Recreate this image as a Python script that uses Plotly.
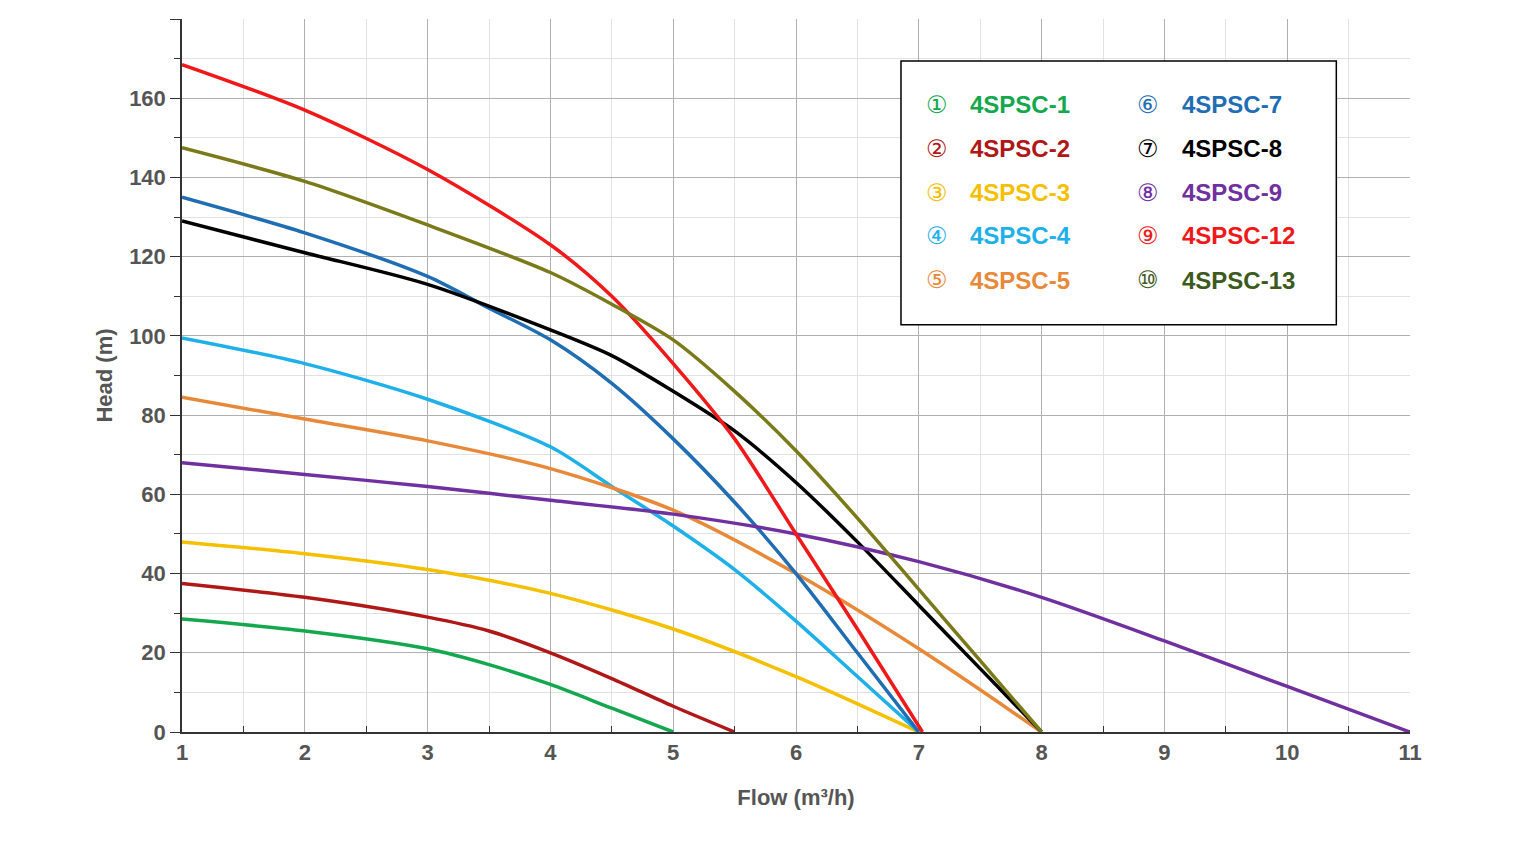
import plotly.graph_objects as go

names = ['4SPSC-1', '4SPSC-2', '4SPSC-3', '4SPSC-4', '4SPSC-5',
         '4SPSC-7', '4SPSC-8', '4SPSC-9', '4SPSC-12', '4SPSC-13']
marks = ['①', '②', '③', '④', '⑤', '⑥', '⑦', '⑧', '⑨', '⑩']
colors = ['#14a84e', '#b01818', '#f5c000', '#1eb0e8', '#e8893a',
          '#1f6db3', '#000000', '#7030a0', '#f01818', '#7a7a1a']
text_colors = ['#14a84e', '#b01818', '#f5c000', '#1eb0e8', '#e8893a',
               '#1f6db3', '#000000', '#7030a0', '#f01818', '#3d5a1e']

flow_1 = [1, 2, 3, 3.5, 4, 4.5, 5]
head_1 = [28.5, 25.5, 21, 17, 12, 6, 0]
flow_2 = [1, 2, 3, 3.5, 4, 4.5, 5, 5.5]
head_2 = [37.5, 34, 29, 25.5, 20, 13.5, 6.5, 0]
flow_3 = [1, 2, 3, 4, 5, 6, 7]
head_3 = [48, 45, 41, 35, 26, 14, 0]
flow_4 = [1, 2, 3, 4, 4.5, 5, 5.5, 6, 6.5, 7]
head_4 = [99.5, 93, 84, 72, 62, 52, 41, 28, 14, 0]
flow_5 = [1, 2, 3, 4, 5, 6, 7, 8]
head_5 = [84.5, 79, 73.5, 66.5, 56, 40, 21, 0]
flow_7 = [1, 2, 3, 3.5, 4, 4.5, 5, 5.5, 6, 6.5, 7]
head_7 = [135, 126, 115, 107, 99, 88, 74, 58, 40, 20, 0]
flow_8 = [1, 2, 3, 4, 4.5, 5, 5.5, 6, 6.5, 7, 7.5, 8]
head_8 = [129, 121, 113, 101.5, 95, 86, 76, 63, 48, 32, 16, 0]
flow_9 = [1, 2, 3, 4, 5, 6, 7, 8, 9, 10, 11]
head_9 = [68, 65, 62, 58.5, 55, 50, 43, 34, 23, 11.5, 0]
flow_12 = [1, 2, 3, 4, 4.5, 5, 5.5, 6, 6.5, 7.03]
head_12 = [168.5, 157, 142, 123, 110, 93, 74, 50, 26, 0]
flow_13 = [1, 2, 3, 4, 4.5, 5, 5.5, 6, 6.5, 7, 7.5, 8]
head_13 = [147.5, 139, 128, 116, 108, 99, 86, 71, 54, 36, 18, 0]

flows = [flow_1, flow_2, flow_3, flow_4, flow_5, flow_7, flow_8, flow_9, flow_12, flow_13]
heads = [head_1, head_2, head_3, head_4, head_5, head_7, head_8, head_9, head_12, head_13]

FONT = 'Liberation Sans Narrow, Liberation Sans, Arial'

fig = go.Figure()
for x, y, c, n in zip(flows, heads, colors, names):
    fig.add_trace(go.Scatter(x=x, y=y, name=n, mode='lines', showlegend=False,
                             line=dict(color=c, width=3.5, shape='spline', smoothing=0.8)))

# legend box drawn by hand (two columns)
fig.add_shape(type='rect', x0=6.855, x1=10.40, y0=102.8, y1=169.4,
              line=dict(color='black', width=1.5), fillcolor='white', layer='above')
rows_y = [158.3, 147.2, 136.1, 125.3, 114.1]
for i in range(10):
    col, row = divmod(i, 5)
    xm = 7.15 if col == 0 else 8.87
    xt = 7.40 if col == 0 else 9.13
    fig.add_annotation(x=xm, y=rows_y[row], text=marks[i], showarrow=False,
                       font=dict(size=24, color=text_colors[i], family='DejaVu Sans'))
    fig.add_annotation(x=xt, y=rows_y[row], text='<b>' + names[i] + '</b>', showarrow=False,
                       xanchor='left', font=dict(size=24, color=text_colors[i], family=FONT))

axis_font = dict(size=22, color='#555555', family=FONT)
fig.update_xaxes(range=[1, 11], dtick=1, showgrid=True, gridcolor='#b0b0b0', gridwidth=1,
                 minor=dict(dtick=0.5, showgrid=True, gridcolor='#e2e2e2', ticks='inside',
                            ticklen=6, tickcolor='#333'),
                 showline=True, linecolor='#333', linewidth=1.5, zeroline=False,
                 ticks='', tickfont=axis_font, tickprefix='<b>', ticksuffix='</b>',
                 title=dict(text='<b>Flow (m³/h)</b>', font=axis_font, standoff=25))
fig.update_yaxes(range=[0, 180], dtick=20, showgrid=True, gridcolor='#b0b0b0', gridwidth=1,
                 minor=dict(dtick=10, showgrid=True, gridcolor='#e2e2e2', ticks='outside',
                            ticklen=6, tickcolor='#333'),
                 showline=True, linecolor='#333', linewidth=1.5, zeroline=False,
                 ticks='outside', ticklen=10, tickcolor='#333',
                 tickfont=axis_font, tickprefix='<b>', ticksuffix='</b>',
                 title=dict(text='<b>Head (m)</b>', font=axis_font, standoff=10))
fig.update_layout(width=1522, height=866, plot_bgcolor='white', paper_bgcolor='white',
                  margin=dict(l=174, r=120, t=11, b=142))
fig.write_html('out.html')
